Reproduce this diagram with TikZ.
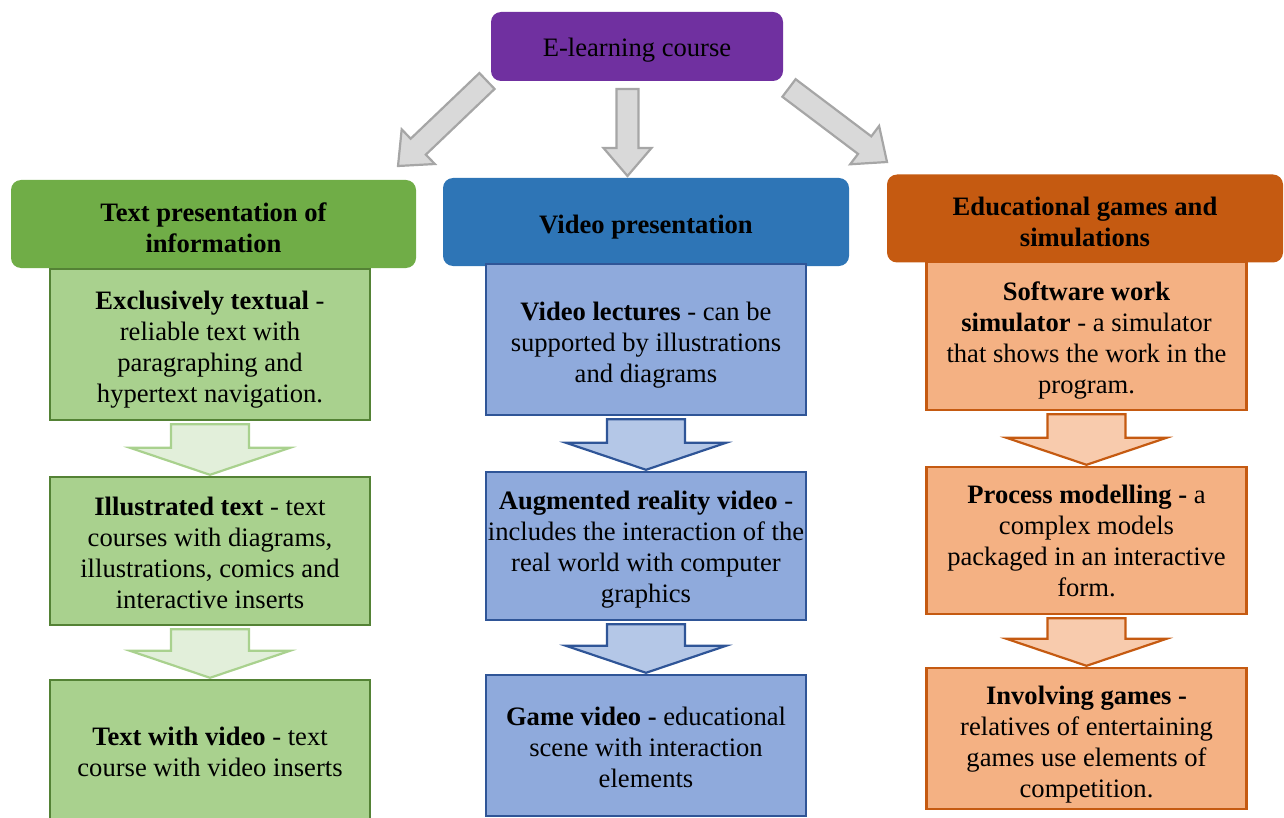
\documentclass[tikz,border=0pt]{standalone}
\usepackage{fontspec}
\setmainfont{Liberation Serif}
\usetikzlibrary{calc}

% block arrow: style, from, to, shaft half width, head half width, head length
\newcommand{\blockarrow}[6]{%
  \coordinate (ba-neck) at ($(#3)!#6!(#2)$);
  \draw[#1] ($(#2)!#4!90:(#3)$) -- ($(ba-neck)!#4!90:(#3)$) -- ($(ba-neck)!#5!90:(#3)$)
    -- (#3) -- ($(ba-neck)!#5!-90:(#3)$) -- ($(ba-neck)!#4!-90:(#3)$) -- ($(#2)!#4!-90:(#3)$) -- cycle;
}
% strut on a first line
\newcommand{\lift}[1]{\rule{0pt}{#1}}

\begin{document}
\begin{tikzpicture}[x=0.5pt,y=-0.5pt,
    font=\fontsize{13.3}{15.5}\selectfont,
    ts/.style={execute at begin node={\rule{0pt}{#1}}},
    head/.style={rounded corners=5pt,minimum height=44pt,align=center,inner sep=1pt,
                 font=\fontsize{13.3}{15.5}\selectfont\bfseries},
    item/.style={draw,line width=1.2pt,minimum width=160pt,align=center,inner sep=1pt},
    darrow/.style={line width=1.1pt}]
  \definecolor{kPurple}{HTML}{7030A0}
  \definecolor{kGreen}{HTML}{70AD47}
  \definecolor{kGreenBox}{HTML}{A9D18E}
  \definecolor{kGreenLine}{HTML}{548235}
  \definecolor{kGreenArrow}{HTML}{E2EFDA}
  \definecolor{kBlue}{HTML}{2E75B6}
  \definecolor{kBlueBox}{HTML}{8FAADC}
  \definecolor{kBlueLine}{HTML}{2F5597}
  \definecolor{kBlueArrow}{HTML}{B4C7E7}
  \definecolor{kOrange}{HTML}{C55A11}
  \definecolor{kOrangeBox}{HTML}{F4B183}
  \definecolor{kOrangeArrow}{HTML}{F8CBAD}
  \definecolor{kGreyFill}{HTML}{D9D9D9}
  \definecolor{kGreyLine}{HTML}{A6A6A6}

  \useasboundingbox (0,0) rectangle (1284,818);
  \clip (0,0) rectangle (1284,818);

  % top
  \node[fill=kPurple,rounded corners=5pt,minimum width=146pt,minimum height=34.5pt,ts=13pt] (course) at (637,46.5) {E-learning course};

  % headers
  \node[head,fill=kGreen,minimum width=202.5pt] (text) at (213.5,224) {\lift{13pt}Text presentation of\\ information};
  \node[head,fill=kBlue,minimum width=203pt,ts=14pt] (video) at (646,222) {Video presentation};
  \node[head,fill=kOrange,minimum width=198pt] (games) at (1085,218.5) {\lift{13pt}Educational games and\\ simulations};

  % grey arrows
  \coordinate (gl0) at (487,81);  \coordinate (gl1) at (398,166);
  \coordinate (gm0) at (627.5,89); \coordinate (gm1) at (627.5,176);
  \coordinate (gr0) at (789,88);  \coordinate (gr1) at (887,162);
  \foreach \a/\b in {gl0/gl1,gm0/gm1,gr0/gr1}
  {
    \blockarrow{fill=kGreyFill,draw=kGreyLine,line width=1.1pt}{\a}{\b}{5.5pt}{12pt}{14pt}
  }

  % green column
  \node[item,draw=kGreenLine,fill=kGreenBox,minimum height=75.5pt] (text1) at (210,344.5)
    {\lift{14pt}\textbf{Exclusively textual} -\\ reliable text with\\ paragraphing and\\ hypertext navigation.};
  \node[item,draw=kGreenLine,fill=kGreenBox,minimum height=74pt] (text2) at (210,551)
    {\lift{11pt}\textbf{Illustrated text} - text\\ courses with diagrams,\\ illustrations, comics and\\ interactive inserts};
  \node[item,draw=kGreenLine,fill=kGreenBox,minimum height=71pt] (text3) at (210,751)
    {\lift{10pt}\textbf{Text with video} - text\\ course with video inserts};

  % blue column
  \node[item,draw=kBlueLine,fill=kBlueBox,minimum height=75.5pt] (video1) at (646,339.5)
    {\lift{15pt}\textbf{Video lectures} - can be\\ supported by illustrations\\ and diagrams};
  \node[item,draw=kBlueLine,fill=kBlueBox,minimum height=74pt] (video2) at (646,546)
    {\lift{13pt}\textbf{Augmented reality video} -\\ includes the interaction of the\\ real world with computer\\ graphics};
  \node[item,draw=kBlueLine,fill=kBlueBox,minimum height=70.5pt] (video3) at (646,745.5)
    {\lift{11pt}\textbf{Game video -} educational\\ scene with interaction\\ elements};

  % orange column
  \node[item,draw=kOrange,fill=kOrangeBox,minimum height=74pt] (games1) at (1086.5,336)
    {\lift{14pt}\textbf{Software work}\\ \textbf{simulator} - a simulator\\ that shows the work in the\\ program.};
  \node[item,draw=kOrange,fill=kOrangeBox,minimum height=73.5pt] (games2) at (1086.5,540.5)
    {\lift{10pt}\textbf{Process modelling -} a\\ complex models\\ packaged in an interactive\\ form.};
  \node[item,draw=kOrange,fill=kOrangeBox,minimum height=70.5pt] (games3) at (1086.5,738.5)
    {\lift{15pt}\textbf{Involving games -}\\ relatives of entertaining\\ games use elements of\\ competition.};

  % arrows between boxes
  \foreach \a/\b/\f/\l in {text1/text2/kGreenArrow/kGreenBox,text2/text3/kGreenArrow/kGreenBox,
                           video1/video2/kBlueArrow/kBlueLine,video2/video3/kBlueArrow/kBlueLine,
                           games1/games2/kOrangeArrow/kOrange,games2/games3/kOrangeArrow/kOrange}
  {
    \coordinate (from) at ($(\a.south)+(0,3)$);
    \coordinate (to) at ($(\b.north)+(0,-1)$);
    \blockarrow{darrow,fill=\f,draw=\l}{from}{to}{19.5pt}{40pt}{13.5pt}
  }
\end{tikzpicture}
\end{document}
